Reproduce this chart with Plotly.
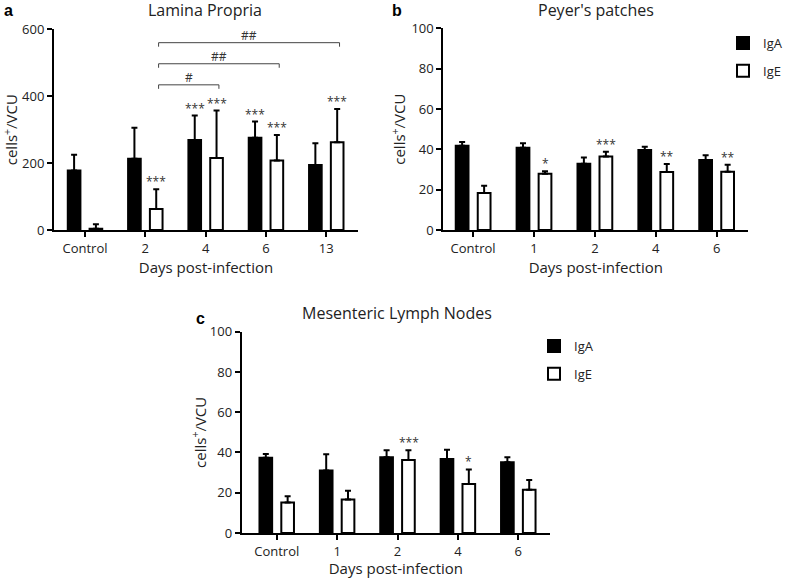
import plotly.graph_objects as go

# ---------------- data ----------------
cats_a = ["Control", "2", "4", "6", "13"]
iga_a = [178, 213, 269, 276, 194]
iga_a_err = [47, 93, 73, 48, 65]
ige_a = [4, 63, 215, 208, 262]
ige_a_err = [13, 59, 142, 76, 100]
sig_iga_a = ["", "", "***", "***", ""]
sig_ige_a = ["", "***", "***", "***", "***"]
# brackets: (from category index, to category index, y value, label)
brackets_a = [(1, 4, 560, "##"), (1, 3, 497, "##"), (1, 2, 434, "#")]

cats_b = ["Control", "1", "2", "4", "6"]
iga_b = [41.8, 40.8, 32.9, 39.7, 34.7]
iga_b_err = [1.8, 2.2, 3.0, 1.6, 2.3]
ige_b = [18.3, 27.9, 36.5, 28.8, 28.9]
ige_b_err = [3.7, 1.2, 2.3, 3.9, 3.5]
sig_iga_b = ["", "", "", "", ""]
sig_ige_b = ["", "*", "***", "**", "**"]

cats_c = ["Control", "1", "2", "4", "6"]
iga_c = [37.4, 31.1, 37.6, 36.8, 35.1]
iga_c_err = [1.8, 8.0, 3.5, 4.6, 2.5]
ige_c = [15.2, 16.6, 36.3, 24.3, 21.5]
ige_c_err = [3.0, 4.4, 4.8, 7.3, 4.8]
sig_iga_c = ["", "", "", "", ""]
sig_ige_c = ["", "", "***", "*", ""]

yticks_a = [0, 200, 400, 600]
yticks_bc = [0, 20, 40, 60, 80, 100]

FONT = "Open Sans"
TXT = "#222222"
W, H = 787, 578

fig = go.Figure()


def add_panel(cats, iga, iga_err, ige, ige_err, xa, ya, legend, show):
    for name, vals, errs, fill in (("IgA", iga, iga_err, "black"),
                                   ("IgE", ige, ige_err, "white")):
        fig.add_trace(go.Bar(
            x=cats, y=vals, name=name,
            marker=dict(color=fill, line=dict(color="black", width=2)),
            error_y=dict(type="data", array=errs, arrayminus=[0] * len(errs),
                         symmetric=False, color="black", thickness=2, width=3),
            xaxis=xa, yaxis=ya, legend=legend, showlegend=show,
            legendgroup=legend + name,
        ))


add_panel(cats_a, iga_a, iga_a_err, ige_a, ige_a_err, "x", "y", "legend", False)
add_panel(cats_b, iga_b, iga_b_err, ige_b, ige_b_err, "x2", "y2", "legend", True)
add_panel(cats_c, iga_c, iga_c_err, ige_c, ige_c_err, "x3", "y3", "legend2", True)

annotations = []
shapes = []

OFF = 11  # px offset of each bar from category centre


def add_sig(cats, vals, errs, sigs, xref, yref, shift):
    for i, (v, e, s) in enumerate(zip(vals, errs, sigs)):
        if s:
            annotations.append(dict(
                x=i, y=v + e, xref=xref, yref=yref, text=s, showarrow=False,
                xshift=shift, yanchor="bottom", yshift=-3,
                font=dict(family=FONT, size=12, color="#333333")))


add_sig(cats_a, iga_a, iga_a_err, sig_iga_a, "x", "y", -OFF)
add_sig(cats_a, ige_a, ige_a_err, sig_ige_a, "x", "y", OFF)
add_sig(cats_b, iga_b, iga_b_err, sig_iga_b, "x2", "y2", -OFF)
add_sig(cats_b, ige_b, ige_b_err, sig_ige_b, "x2", "y2", OFF)
add_sig(cats_c, iga_c, iga_c_err, sig_iga_c, "x3", "y3", -OFF)
add_sig(cats_c, ige_c, ige_c_err, sig_ige_c, "x3", "y3", OFF)

BR_OFF = 0.22
for i0, i1, yv, lab in brackets_a:
    x0, x1 = i0 + BR_OFF, i1 + BR_OFF
    drop = 12
    shapes.append(dict(type="path", xref="x", yref="y",
                       path=f"M {x0} {yv - drop} L {x0} {yv} L {x1} {yv} L {x1} {yv - drop}",
                       line=dict(color="#444444", width=1)))
    annotations.append(dict(x=(x0 + x1) / 2, y=yv, xref="x", yref="y", text=lab,
                            showarrow=False, yanchor="bottom", yshift=-3,
                            font=dict(family=FONT, size=12, color="#333333")))

# titles and panel letters
for txt, x, y in (("Lamina Propria", 205, 10), ("Peyer's patches", 596, 10),
                  ("Mesenteric Lymph Nodes", 397, 313)):
    annotations.append(dict(x=x / W, y=1 - y / H, xref="paper", yref="paper", text=txt,
                            showarrow=False, xanchor="center", yanchor="middle",
                            font=dict(family=FONT, size=16, color=TXT)))
for txt, x, y in (("a", 8, 10), ("b", 397, 10), ("c", 200, 318)):
    annotations.append(dict(x=x / W, y=1 - y / H, xref="paper", yref="paper",
                            text=f"<b>{txt}</b>", showarrow=False,
                            xanchor="center", yanchor="middle",
                            font=dict(family="Liberation Sans", size=16, color="black")))

axis_common = dict(showline=True, linecolor="black", linewidth=2, ticks="outside",
                   ticklen=5, tickwidth=2, tickcolor="black", showgrid=False,
                   zeroline=False, automargin=False,
                   tickfont=dict(family=FONT, size=13, color=TXT))
xt = dict(text="Days post-infection", font=dict(family=FONT, size=15, color=TXT), standoff=4)


def yt(standoff):
    return dict(text="cells<sup>+</sup>/VCU", font=dict(family=FONT, size=15, color=TXT),
                standoff=standoff)


fig.update_layout(
    width=W, height=H, margin=dict(l=0, r=0, t=0, b=0, autoexpand=False),
    paper_bgcolor="white", plot_bgcolor="white",
    barmode="group", bargap=0.277, bargroupgap=0.42,
    font=dict(family=FONT, color=TXT),
    xaxis=dict(type="category", domain=[54 / W, 358 / W], range=[-0.514, 4.526], anchor="y",
               title=xt, **axis_common),
    yaxis=dict(domain=[1 - 230 / H, 1 - 29.3 / H], range=[0, 600], anchor="x",
               tickvals=yticks_a, title=yt(4), **axis_common),
    xaxis2=dict(type="category", domain=[443.3 / W, 748.3 / W], range=[-0.49, 4.52], anchor="y2",
                title=xt, **axis_common),
    yaxis2=dict(domain=[1 - 230 / H, 1 - 28.3 / H], range=[0, 100], anchor="x2",
                tickvals=yticks_bc, title=yt(2), **axis_common),
    xaxis3=dict(type="category", domain=[241.7 / W, 550 / W], range=[-0.58, 4.525], anchor="y3",
                title=xt, **axis_common),
    yaxis3=dict(domain=[1 - 533 / H, 1 - 331.7 / H], range=[0, 100], anchor="x3",
                tickvals=yticks_bc, title=yt(0), **axis_common),
    legend=dict(x=723 / W, y=1 - 28 / H, xanchor="left", yanchor="top",
                font=dict(family=FONT, size=13, color=TXT), tracegroupgap=8,
                bgcolor="rgba(0,0,0,0)"),
    legend2=dict(x=534 / W, y=1 - 331 / H, xanchor="left", yanchor="top",
                 font=dict(family=FONT, size=13, color=TXT), tracegroupgap=8,
                 bgcolor="rgba(0,0,0,0)"),
    annotations=annotations, shapes=shapes,
)

fig.write_html("out.html", config={"displayModeBar": False},
               post_script="document.body.style.margin='0';")
